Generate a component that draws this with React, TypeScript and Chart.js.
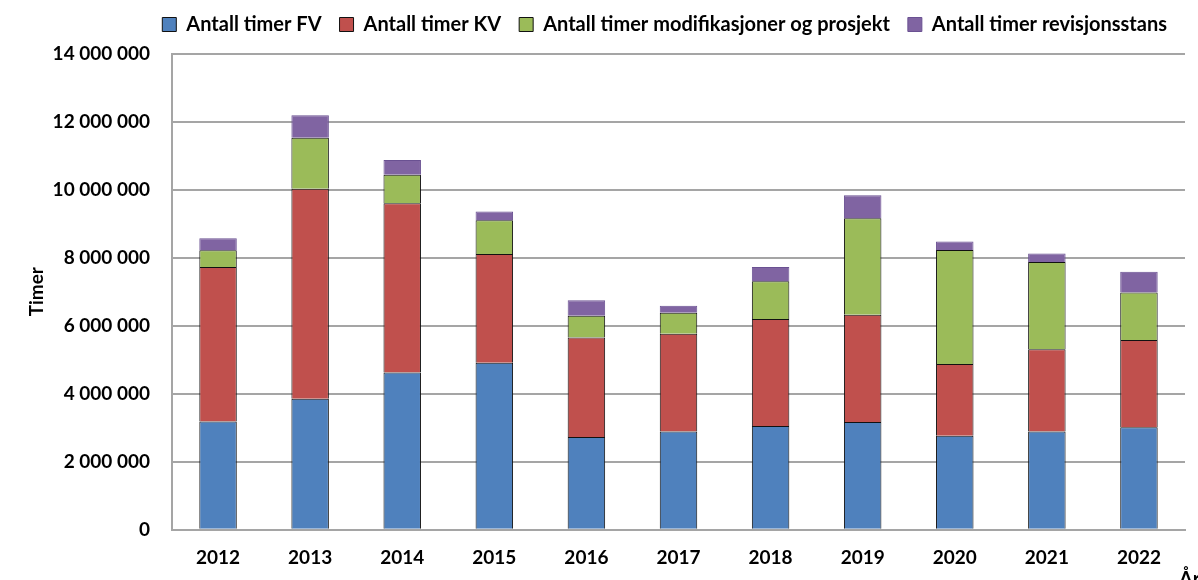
import React, { useEffect, useRef } from "react";
import { Chart, registerables } from "chart.js";

Chart.register(...registerables);

const years = ["2012", "2013", "2014", "2015", "2016", "2017", "2018", "2019", "2020", "2021", "2022"];
const timerFV = [3180000, 3850000, 4620000, 4910000, 2730000, 2890000, 3050000, 3170000, 2760000, 2890000, 3010000];
const timerKV = [4550000, 6180000, 4980000, 3200000, 2920000, 2870000, 3150000, 3150000, 2110000, 2420000, 2570000];
const timerMod = [490000, 1500000, 840000, 990000, 640000, 620000, 1110000, 2840000, 3360000, 2560000, 1400000];
const timerRev = [350000, 660000, 430000, 260000, 460000, 210000, 420000, 680000, 250000, 250000, 610000];
const seriesNames = [
  "Antall timer FV",
  "Antall timer KV",
  "Antall timer modifikasjoner og prosjekt",
  "Antall timer revisjonsstans",
];
const yTicks = [0, 2000000, 4000000, 6000000, 8000000, 10000000, 12000000, 14000000];

const FONT = "Lato, 'Open Sans', sans-serif";

const fmt = (v: number) => String(v).replace(/\B(?=(\d{3})+(?!\d))/g, " ");

const xTitlePlugin = {
  id: "xTitleAr",
  afterDraw(chart: any) {
    const ctx = chart.ctx;
    ctx.save();
    ctx.font = `bold 20px ${FONT}`;
    ctx.fillStyle = "#000";
    ctx.textAlign = "left";
    ctx.textBaseline = "alphabetic";
    ctx.fillText("År", 1179, 586);
    ctx.restore();
  },
};

export default function App() {
  const ref = useRef<HTMLCanvasElement | null>(null);
  useEffect(() => {
    if (!ref.current) return;
    const mk = (label: string, data: number[], bg: string, border: string) => ({
      label,
      data,
      backgroundColor: bg,
      borderColor: border,
      borderWidth: 1,
      barPercentage: 0.407,
      categoryPercentage: 1,
    });
    const chart = new Chart(ref.current, {
      type: "bar",
      data: {
        labels: years,
        datasets: [
          mk(seriesNames[0], timerFV, "#4F81BD", "#111111"),
          mk(seriesNames[1], timerKV, "#C0504D", "#111111"),
          mk(seriesNames[2], timerMod, "#9BBB59", "#111111"),
          mk(seriesNames[3], timerRev, "#8064A2", "#6a5192"),
        ],
      },
      options: {
        responsive: false,
        animation: false,
        layout: { padding: { left: 0, right: 13, top: -3.5, bottom: 0 } },
        plugins: {
          legend: {
            position: "top",
            align: "end",
            labels: {
              boxWidth: 14,
              boxHeight: 14,
              padding: 18,
              color: "#000",
              font: { family: FONT, size: 20, weight: "bold" },
            },
          },
          tooltip: { enabled: false },
        },
        scales: {
          x: {
            stacked: true,
            grid: { display: false, drawTicks: false },
            border: { display: true, color: "#a5a5a5", width: 2 },
            ticks: {
              color: "#000",
              padding: 17,
              font: { family: FONT, size: 19, weight: "bold" },
            },
            afterFit(s: any) {
              s.height = 50.3;
            },
          },
          xTopSpacer: {
            type: "category",
            position: "top",
            display: true,
            grid: { display: false, drawTicks: false },
            border: { display: false },
            ticks: { display: false },
            afterFit(s: any) {
              s.height = 9.2;
            },
          },
          y: {
            stacked: true,
            min: 0,
            max: 14000000,
            afterBuildTicks(s: any) {
              s.ticks = yTicks.map((v) => ({ value: v }));
            },
            grid: { color: "#a5a5a5", lineWidth: 2, drawTicks: false },
            border: { display: true, color: "#a5a5a5", width: 2 },
            ticks: {
              color: "#000",
              padding: 22,
              font: { family: FONT, size: 19, weight: "bold" },
              callback: (v: any) => fmt(Number(v)),
            },
            title: {
              display: true,
              text: "Timer",
              color: "#000",
              font: { family: FONT, size: 19, weight: "bold" },
              padding: { top: 25, bottom: 0 },
            },
            afterFit(s: any) {
              s.width = 172;
            },
          },
        },
      },
      plugins: [xTitlePlugin],
    } as any);
    return () => chart.destroy();
  }, []);
  return (
    <div style={{ position: "absolute", left: 0, top: 0, width: 1198, height: 580, background: "#fff" }}>
      <canvas ref={ref} width={1198} height={580} style={{ display: "block" }} />
    </div>
  );
}
